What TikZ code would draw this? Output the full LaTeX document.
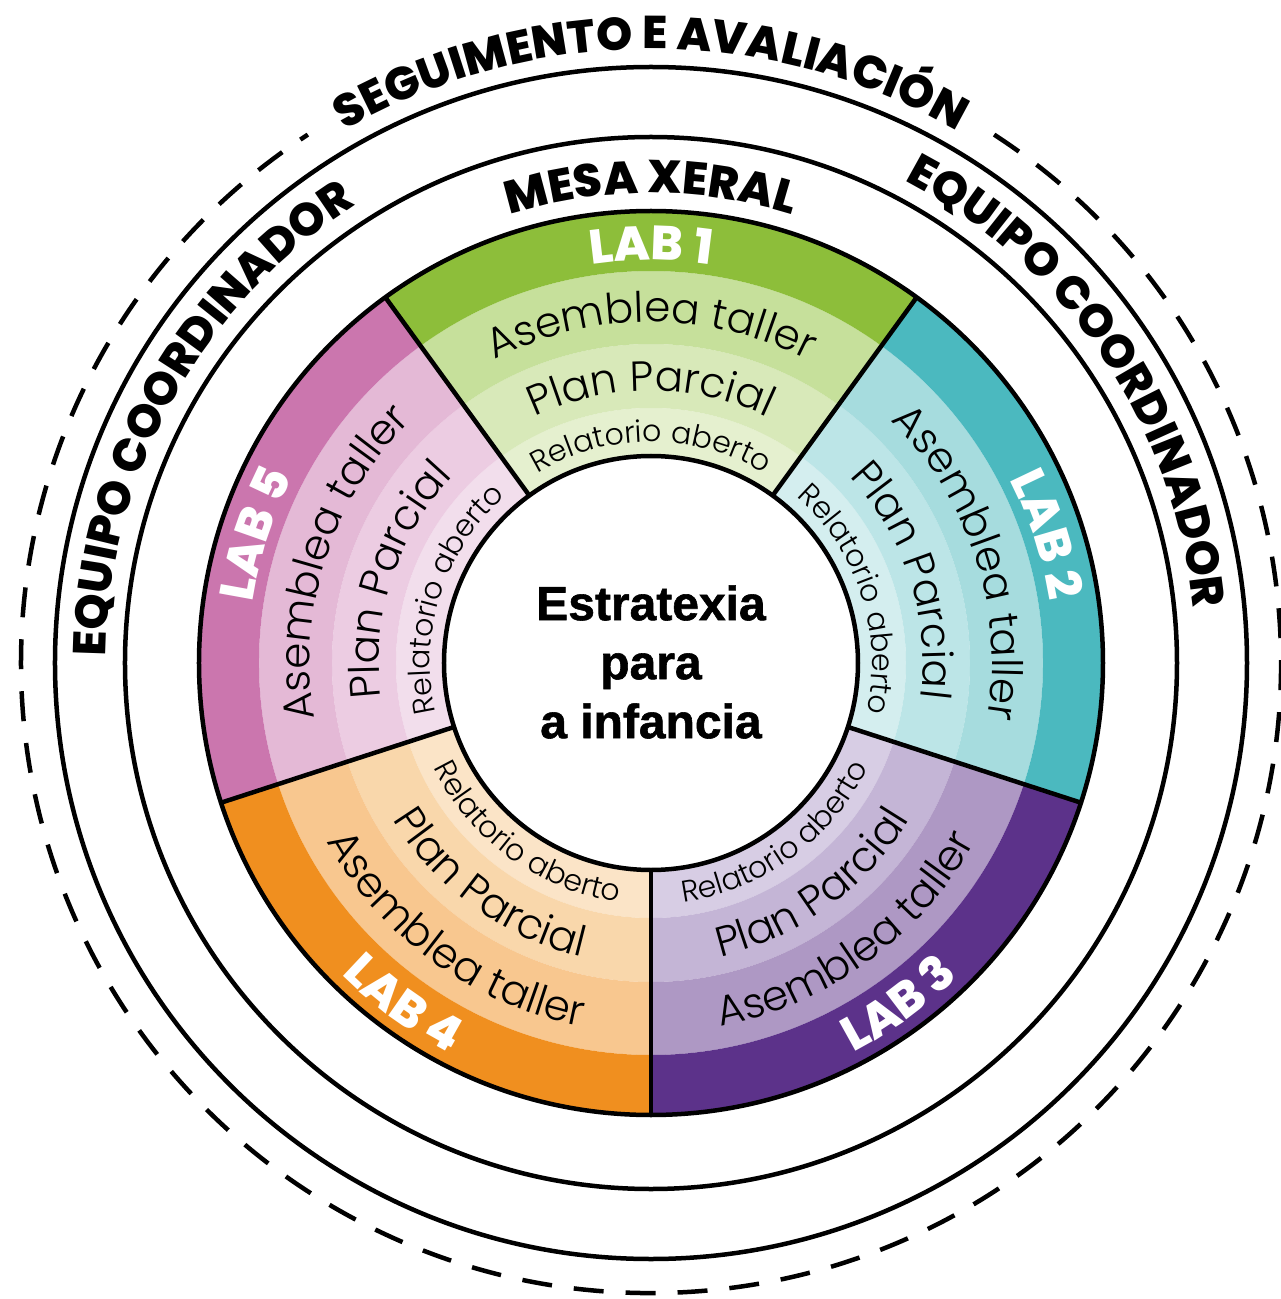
\documentclass[tikz,border=0pt]{standalone}
\usepackage{fontspec}
\usetikzlibrary{decorations.text}
\setmainfont{Liberation Sans}
\newfontfamily\popfam{Poppins}
\IfFontExistsTF{Poppins Light}{\newfontfamily\lightfam{Poppins Light}}{\newfontfamily\lightfam{Poppins}}
\IfFontExistsTF{Poppins ExtraBold}{\newfontfamily\heavyfam{Poppins ExtraBold}}{\newcommand\heavyfam{\popfam\bfseries}}
\newfontfamily\centrefam{Liberation Sans Bold}[FakeBold=1.2]

\definecolor{gD}{RGB}{141,190,58}
\definecolor{gA}{RGB}{198,224,155}
\definecolor{gP}{RGB}{216,233,185}
\definecolor{gR}{RGB}{229,240,207}
\definecolor{tD}{RGB}{75,185,191}
\definecolor{tA}{RGB}{166,220,222}
\definecolor{tP}{RGB}{188,229,231}
\definecolor{tR}{RGB}{212,238,239}
\definecolor{pD}{RGB}{92,50,138}
\definecolor{pA}{RGB}{174,152,196}
\definecolor{pP}{RGB}{196,181,214}
\definecolor{pR}{RGB}{215,205,228}
\definecolor{oD}{RGB}{240,143,31}
\definecolor{oA}{RGB}{248,199,143}
\definecolor{oP}{RGB}{249,215,171}
\definecolor{oR}{RGB}{251,228,199}
\definecolor{mD}{RGB}{203,118,174}
\definecolor{mA}{RGB}{228,185,214}
\definecolor{mP}{RGB}{236,204,226}
\definecolor{mR}{RGB}{242,222,236}

\newcommand\labfont{\heavyfam\fontsize{48}{48}\selectfont\color{white}}
\newcommand\titlefont{\heavyfam\fontsize{46}{46}\selectfont}
\newcommand\lightA{\lightfam\fontsize{42}{42}\selectfont}
\newcommand\lightB{\lightfam\fontsize{30}{30}\selectfont}

\newcommand\bandfill[5]{%
  \fill[#1] (#2:#4pt) -- (#2:#5pt) arc[start angle=#2, end angle=#3, radius=#5pt]
    -- (#3:#4pt) arc[start angle=#3, end angle=#2, radius=#4pt] -- cycle;}
\newcommand\arctop[4]{%
  \pgfmathsetmacro\sa{#1+42}\pgfmathsetmacro\ea{#1-42}%
  \path[decorate,decoration={text along path,text align=center,text={|#3|#4}}]
    (\sa:#2pt) arc[start angle=\sa,end angle=\ea,radius=#2pt];}
\newcommand\arcbot[4]{%
  \pgfmathsetmacro\sa{#1-42}\pgfmathsetmacro\ea{#1+42}%
  \path[decorate,decoration={text along path,text align=center,text={|#3|#4}}]
    (\sa:#2pt) arc[start angle=\sa,end angle=\ea,radius=#2pt];}

\tikzset{
  ringline/.style={line width=4.5pt, draw=black},
  dashring/.style={line width=4.5pt, draw=black, dash pattern=on 30pt off 22pt},
}

\begin{document}
\begin{tikzpicture}[x=1pt,y=1pt]
\useasboundingbox (-651,-636) rectangle (630,663);
\fill[white] (-651,-636) rectangle (630,663);

% coloured sectors
\foreach \m/\cd/\ca/\cp/\cr in {90/gD/gA/gP/gR, 18/tD/tA/tP/tR, -54/pD/pA/pP/pR, -126/oD/oA/oP/oR, 162/mD/mA/mP/mR}{
  \pgfmathsetmacro\aa{\m-36}\pgfmathsetmacro\ab{\m+36}
  \bandfill{\cr}{\aa}{\ab}{207}{255}
  \bandfill{\cp}{\aa}{\ab}{255}{319}
  \bandfill{\ca}{\aa}{\ab}{319}{392}
  \bandfill{\cd}{\aa}{\ab}{392}{452}
}

% outlines
\draw[ringline] (0,0) circle[radius=207pt];
\draw[ringline] (0,0) circle[radius=452pt];
\foreach \a in {54,126,198,270,342}{
  \draw[ringline] (\a:207pt) -- (\a:452pt);
}
\draw[ringline] (0,0) circle[radius=526pt];
\draw[ringline] (0,0) circle[radius=596pt];
\draw[dashring] (57:630pt) arc[start angle=57, end angle=-237, radius=630pt];

% centre
\node[align=center, font=\fontsize{48}{59}\selectfont\centrefam] (centro) at (0,1) {Estratexia\\para\\a infancia};

% LAB 1
\arctop{90}{403}{\labfont}{LAB 1}
\arctop{90}{341}{\lightA}{Asemblea taller}
\arctop{90}{272}{\lightA}{Plan Parcial}
\arctop{90}{221}{\lightB}{Relatorio aberto}
% LAB 2
\arctop{18}{403}{\labfont}{LAB 2}
\arctop{18}{341}{\lightA}{Asemblea taller}
\arctop{18}{272}{\lightA}{Plan Parcial}
\arctop{18}{221}{\lightB}{Relatorio aberto}
% LAB 5
\arctop{162}{403}{\labfont}{LAB 5}
\arctop{162}{341}{\lightA}{Asemblea taller}
\arctop{162}{272}{\lightA}{Plan Parcial}
\arctop{162}{221}{\lightB}{Relatorio aberto}
% LAB 3
\arcbot{-54}{439}{\labfont}{LAB 3}
\arcbot{-54}{370}{\lightA}{Asemblea taller}
\arcbot{-54}{302}{\lightA}{Plan Parcial}
\arcbot{-54}{241}{\lightB}{Relatorio aberto}
% LAB 4
\arcbot{-126}{439}{\labfont}{LAB 4}
\arcbot{-126}{370}{\lightA}{Asemblea taller}
\arcbot{-126}{302}{\lightA}{Plan Parcial}
\arcbot{-126}{241}{\lightB}{Relatorio aberto}

% titles
\arctop{90}{614}{\titlefont}{SEGUIMENTO E AVALIACIÓN}
\arctop{90}{470}{\titlefont}{MESA XERAL}
\arctop{151}{545}{\titlefont}{EQUIPO COORDINADOR}
\arctop{34}{545}{\titlefont}{EQUIPO COORDINADOR}
\end{tikzpicture}
\end{document}
